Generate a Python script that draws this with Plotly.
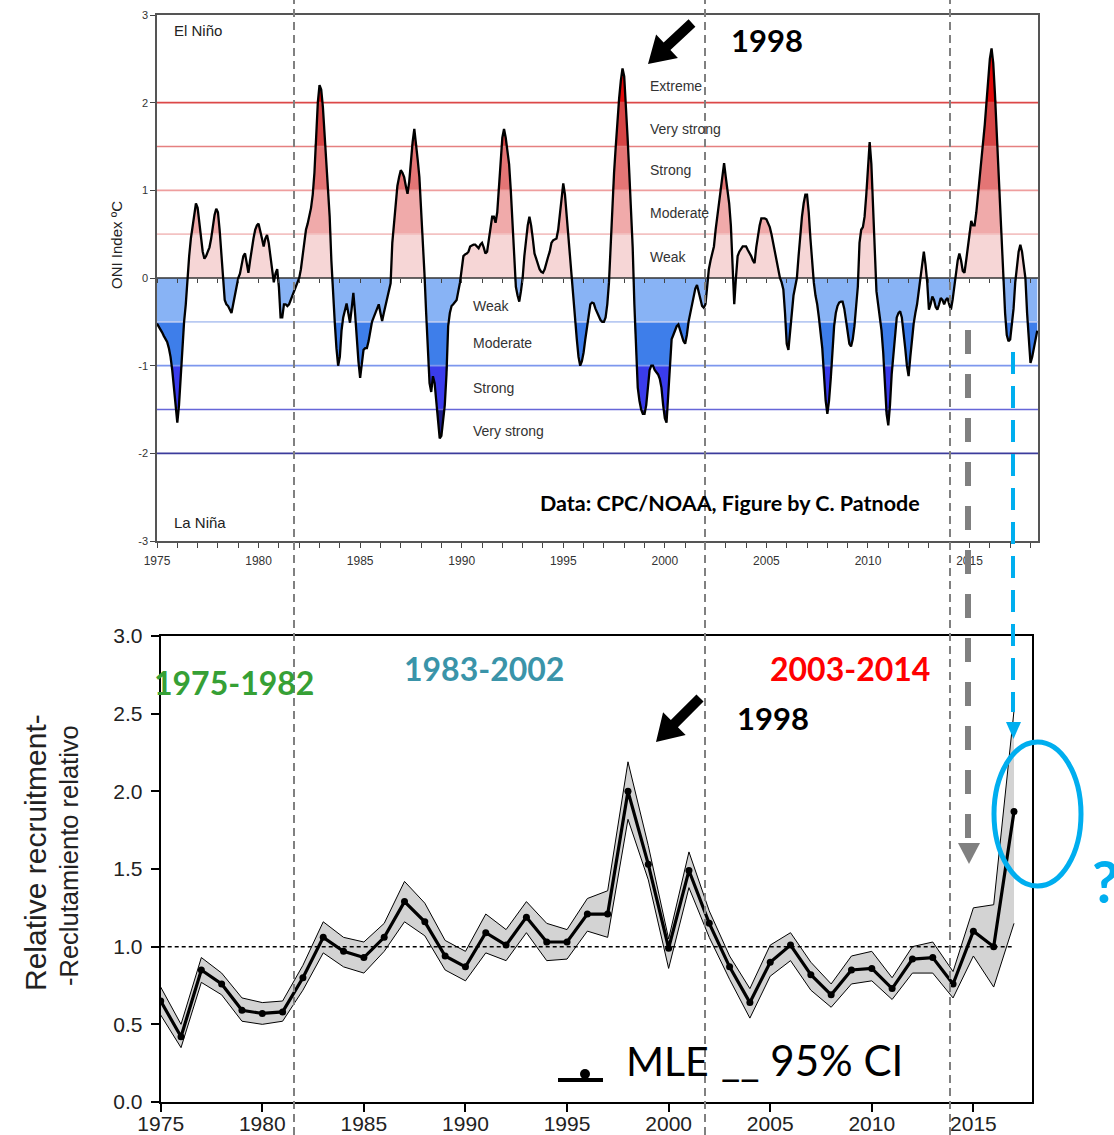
import numpy as np
import plotly.graph_objects as go

# ------------------------------------------------------------------ data
ONI_START = 1975  # monthly values, first value = Jan 1975
ONI_1975_1984 = [
    -0.52, -0.55, -0.58, -0.62, -0.66, -0.70, -0.73, -0.80, -0.90, -1.05, -1.25, -1.45,
    -1.65, -1.45, -1.10, -0.80, -0.50, -0.30, 0.00, 0.25, 0.45, 0.60, 0.75, 0.85,
    0.80, 0.65, 0.45, 0.30, 0.22, 0.25, 0.30, 0.35, 0.45, 0.60, 0.72, 0.79,
    0.75, 0.55, 0.30, 0.00, -0.25, -0.30, -0.32, -0.36, -0.40, -0.30, -0.20, -0.10,
    0.00, 0.05, 0.15, 0.25, 0.28, 0.15, 0.06, 0.20, 0.35, 0.45, 0.55, 0.60,
    0.62, 0.55, 0.45, 0.36, 0.45, 0.49, 0.40, 0.25, 0.10, -0.05, 0.05, 0.10,
    -0.10, -0.45, -0.45, -0.30, -0.30, -0.32, -0.30, -0.25, -0.20, -0.15, -0.10, -0.05,
    0.00, 0.10, 0.25, 0.40, 0.55, 0.62, 0.70, 0.80, 0.95, 1.20, 1.60, 2.00,
    2.20, 2.15, 1.95, 1.65, 1.35, 1.00, 0.70, 0.20, -0.20, -0.50, -0.80, -1.00,
    -0.90, -0.60, -0.45, -0.35, -0.29, -0.40, -0.51, -0.35, -0.17, -0.40, -0.70, -0.95,
]
ONI_1985_1994 = [
    -1.14, -0.95, -0.82, -0.80, -0.80, -0.72, -0.60, -0.50, -0.45, -0.40, -0.33, -0.30,
    -0.40, -0.49, -0.40, -0.32, -0.25, -0.15, -0.06, 0.40, 0.60, 0.85, 1.05, 1.15,
    1.23, 1.20, 1.15, 1.05, 0.96, 1.10, 1.35, 1.55, 1.70, 1.55, 1.35, 1.15,
    0.80, 0.40, 0.05, -0.40, -0.80, -1.20, -1.30, -1.12, -1.20, -1.40, -1.60, -1.83,
    -1.80, -1.65, -1.45, -1.10, -0.55, -0.40, -0.32, -0.30, -0.27, -0.25, -0.15, -0.05,
    0.10, 0.25, 0.27, 0.28, 0.30, 0.36, 0.37, 0.38, 0.38, 0.36, 0.34, 0.38,
    0.40, 0.35, 0.28, 0.30, 0.45, 0.55, 0.70, 0.70, 0.63, 0.75, 1.05, 1.40,
    1.60, 1.70, 1.60, 1.45, 1.30, 1.00, 0.60, 0.15, -0.10, -0.20, -0.27, -0.15,
    0.00, 0.25, 0.45, 0.60, 0.70, 0.60, 0.45, 0.28, 0.22, 0.15, 0.10, 0.07,
    0.06, 0.10, 0.18, 0.24, 0.30, 0.40, 0.43, 0.44, 0.45, 0.55, 0.72, 0.90,
]
ONI_1995_2004 = [
    1.08, 0.95, 0.70, 0.45, 0.20, 0.05, -0.20, -0.45, -0.70, -0.90, -1.00, -0.95,
    -0.85, -0.70, -0.55, -0.40, -0.30, -0.28, -0.29, -0.35, -0.40, -0.45, -0.48, -0.50,
    -0.50, -0.45, -0.30, -0.05, 0.40, 0.80, 1.20, 1.50, 1.80, 2.05, 2.25, 2.39,
    2.30, 2.00, 1.60, 1.20, 0.80, 0.35, -0.30, -0.90, -1.25, -1.40, -1.50, -1.55,
    -1.55, -1.45, -1.20, -1.05, -1.00, -1.00, -1.05, -1.08, -1.10, -1.15, -1.25, -1.45,
    -1.60, -1.65, -1.30, -1.00, -0.70, -0.65, -0.60, -0.55, -0.53, -0.60, -0.65, -0.72,
    -0.75, -0.65, -0.50, -0.40, -0.30, -0.20, -0.12, -0.08, -0.15, -0.25, -0.32, -0.34,
    -0.30, -0.10, 0.10, 0.20, 0.30, 0.36, 0.55, 0.70, 0.90, 1.05, 1.20, 1.31,
    1.15, 1.00, 0.85, 0.60, 0.10, -0.30, 0.00, 0.25, 0.30, 0.33, 0.36, 0.36,
    0.36, 0.32, 0.29, 0.25, 0.20, 0.17, 0.35, 0.50, 0.60, 0.68, 0.68, 0.68,
]
ONI_2005_2018 = [
    0.67, 0.62, 0.58, 0.50, 0.40, 0.30, 0.17, 0.08, 0.00, -0.05, -0.13, -0.40,
    -0.75, -0.82, -0.60, -0.40, -0.20, -0.10, 0.00, 0.25, 0.50, 0.70, 0.85, 0.95,
    0.95, 0.75, 0.45, 0.15, -0.05, -0.20, -0.30, -0.45, -0.60, -0.80, -1.10, -1.40,
    -1.55, -1.40, -1.15, -0.85, -0.55, -0.40, -0.32, -0.28, -0.27, -0.27, -0.35, -0.48,
    -0.65, -0.75, -0.78, -0.70, -0.55, -0.35, -0.10, 0.40, 0.55, 0.58, 0.70, 0.95,
    1.30, 1.55, 1.30, 0.75, 0.30, -0.15, -0.30, -0.45, -0.60, -0.85, -1.20, -1.55,
    -1.68, -1.45, -1.10, -0.85, -0.60, -0.45, -0.40, -0.38, -0.45, -0.60, -0.80, -1.00,
    -1.12, -0.90, -0.70, -0.52, -0.40, -0.30, -0.15, 0.00, 0.20, 0.30, 0.15, -0.05,
    -0.36, -0.30, -0.21, -0.25, -0.33, -0.36, -0.30, -0.23, -0.25, -0.30, -0.25, -0.23,
    -0.30, -0.36, -0.25, -0.10, 0.00, 0.20, 0.28, 0.20, 0.08, 0.06, 0.20, 0.35,
    0.55, 0.65, 0.60, 0.60, 0.75, 0.95, 1.10, 1.30, 1.50, 1.75, 2.00, 2.25,
    2.50, 2.62, 2.45, 2.10, 1.70, 1.30, 0.82, 0.40, -0.05, -0.40, -0.65, -0.72,
    -0.70, -0.55, -0.35, -0.05, 0.15, 0.30, 0.38, 0.30, 0.15, 0.00, -0.40, -0.75,
    -0.97, -0.90, -0.80, -0.70, -0.60,
]

POS_BANDS = [(0.0, 0.5), (0.5, 1.0), (1.0, 1.5), (1.5, 2.0), (2.0, 3.0)]
POS_COLORS = ["#F6D6D6", "#F0AAAA", "#E47575", "#D64545", "#E00A0A"]
NEG_BANDS = [(0.0, -0.5), (-0.5, -1.0), (-1.0, -1.5), (-1.5, -2.0), (-2.0, -3.0)]
NEG_COLORS = ["#88B3F5", "#3E7EEA", "#3A3CEC", "#1E1E8C", "#12125A"]
THRESH_LEVELS = [2.0, 1.5, 1.0, 0.5, -0.5, -1.0, -1.5, -2.0]
THRESH_COLORS = ["#DC4848", "#E58080", "#EE9E9E", "#F3C2C2",
                 "#B9CAF2", "#7D97EE", "#6666D8", "#3C3C9C"]
POS_LABELS = ["Extreme", "Very strong", "Strong", "Moderate", "Weak"]
POS_LABEL_Y = [2.19, 1.70, 1.23, 0.74, 0.24]
NEG_LABELS = ["Weak", "Moderate", "Strong", "Very strong"]
NEG_LABEL_Y = [-0.32, -0.74, -1.26, -1.75]
POS_LABEL_X = 1999.17
NEG_LABEL_X = 1990.46
TOP_YTICKS = [-3, -2, -1, 0, 1, 2, 3]

REC_YEARS = list(range(1975, 2018))
REC_MLE = [0.65, 0.42, 0.85, 0.76, 0.59, 0.57, 0.58, 0.80, 1.06, 0.97, 0.93, 1.06, 1.29,
           1.16, 0.94, 0.87, 1.09, 1.01, 1.19, 1.03, 1.03, 1.21, 1.21, 2.00, 1.53, 0.99,
           1.49, 1.15, 0.87, 0.64, 0.90, 1.01, 0.82, 0.69, 0.85, 0.86, 0.73, 0.92, 0.93,
           0.76, 1.10, 1.00, 1.87]
REC_UPPER = [0.74, 0.50, 0.93, 0.83, 0.67, 0.64, 0.65, 0.88, 1.16, 1.06, 1.03, 1.15, 1.42,
             1.28, 1.04, 0.97, 1.21, 1.11, 1.29, 1.15, 1.11, 1.31, 1.36, 2.19, 1.65, 1.05,
             1.61, 1.23, 0.94, 0.73, 1.01, 1.09, 0.90, 0.76, 0.94, 0.97, 0.80, 1.00, 1.03,
             0.84, 1.25, 1.27, 2.52]
REC_LOWER = [0.56, 0.35, 0.77, 0.69, 0.52, 0.50, 0.52, 0.72, 0.96, 0.87, 0.83, 0.97, 1.16,
             1.07, 0.85, 0.78, 0.96, 0.91, 1.09, 0.91, 0.92, 1.10, 1.06, 1.82, 1.43, 0.86,
             1.38, 1.06, 0.79, 0.54, 0.81, 0.91, 0.72, 0.61, 0.76, 0.78, 0.66, 0.83, 0.83,
             0.67, 0.94, 0.74, 1.15]
REC_REF = 1.0
BOT_YTICKS = [0, 0.5, 1, 1.5, 2, 2.5, 3]

PERIOD_LABELS = ["1975-1982", "1983-2002", "2003-2014"]
PERIOD_COLORS = ["#36A035", "#3A94A9", "#FF0000"]

# ------------------------------------------------------------------ helpers
W, H = 1114, 1135
def px(x):
    return x / W
def py(y):
    return 1 - y / H

ARIAL = "Liberation Sans, Arial, sans-serif"
CALIBRI = "Lato, Open Sans, sans-serif"
BLUE = "#00AEEF"

oni = np.array(ONI_1975_1984 + ONI_1985_1994 + ONI_1995_2004 + ONI_2005_2018)
t = ONI_START + np.arange(len(oni)) / 12.0
TOP_XMAX = 2018.37
BOT_XMAX = 2017.9

fig = go.Figure()

# ---- top panel: band fills
for (lo, hi), col in zip(POS_BANDS, POS_COLORS):
    fig.add_trace(go.Scatter(x=t, y=np.full(len(t), lo), mode="lines", line=dict(width=0),
                             hoverinfo="skip", showlegend=False, xaxis="x", yaxis="y"))
    fig.add_trace(go.Scatter(x=t, y=np.clip(oni, lo, hi), mode="lines", line=dict(width=0),
                             fill="tonexty", fillcolor=col, hoverinfo="skip",
                             showlegend=False, xaxis="x", yaxis="y"))
for (a, b), col in zip(NEG_BANDS, NEG_COLORS):
    fig.add_trace(go.Scatter(x=t, y=np.full(len(t), a), mode="lines", line=dict(width=0),
                             hoverinfo="skip", showlegend=False, xaxis="x", yaxis="y"))
    fig.add_trace(go.Scatter(x=t, y=np.clip(oni, b, a), mode="lines", line=dict(width=0),
                             fill="tonexty", fillcolor=col, hoverinfo="skip",
                             showlegend=False, xaxis="x", yaxis="y"))

# threshold lines
for lev, col in zip(THRESH_LEVELS, THRESH_COLORS):
    fig.add_trace(go.Scatter(x=[ONI_START, TOP_XMAX], y=[lev, lev], mode="lines",
                             line=dict(color=col, width=1.6), hoverinfo="skip",
                             showlegend=False, xaxis="x", yaxis="y"))
fig.add_trace(go.Scatter(x=[ONI_START, TOP_XMAX], y=[0, 0], mode="lines",
                         line=dict(color="#333333", width=1.5), hoverinfo="skip",
                         showlegend=False, xaxis="x", yaxis="y"))
# ONI curve
fig.add_trace(go.Scatter(x=t, y=oni, mode="lines", line=dict(color="black", width=2.3),
                         showlegend=False, xaxis="x", yaxis="y"))
# dummy trace for the zero-line tick axis
fig.add_trace(go.Scatter(x=[ONI_START, TOP_XMAX], y=[0, 0], mode="lines",
                         line=dict(width=0), hoverinfo="skip", showlegend=False,
                         xaxis="x3", yaxis="y"))

# ---- bottom panel
fig.add_trace(go.Scatter(x=REC_YEARS, y=REC_UPPER, mode="lines",
                         line=dict(color="black", width=1), showlegend=False,
                         xaxis="x2", yaxis="y2"))
fig.add_trace(go.Scatter(x=REC_YEARS, y=REC_LOWER, mode="lines",
                         line=dict(color="black", width=1), fill="tonexty",
                         fillcolor="#D3D3D3", showlegend=False, xaxis="x2", yaxis="y2"))
fig.add_trace(go.Scatter(x=[REC_YEARS[0], REC_YEARS[-1]], y=[REC_REF, REC_REF], mode="lines",
                         line=dict(color="black", width=1.5, dash="4px,3px"),
                         showlegend=False, xaxis="x2", yaxis="y2"))
fig.add_trace(go.Scatter(x=REC_YEARS, y=REC_MLE, mode="lines+markers",
                         line=dict(color="black", width=3.2),
                         marker=dict(color="black", size=7), showlegend=False,
                         xaxis="x2", yaxis="y2"))

# ------------------------------------------------------------------ shapes
shapes = []
for xv in [294, 705, 950]:
    shapes.append(dict(type="line", xref="paper", yref="paper", x0=px(xv), x1=px(xv),
                       y0=0, y1=1, line=dict(color="#808080", width=2, dash="8px,5px"),
                       layer="above"))

def arrow_path(tail, tip, w, L, hw):
    x0, y0 = tail
    x1, y1 = tip
    d = np.hypot(x1 - x0, y1 - y0)
    ux, uy = (x1 - x0) / d, (y1 - y0) / d
    nx, ny = -uy, ux
    bx, by = x1 - ux * L, y1 - uy * L
    pts = [(x0 + nx * w / 2, y0 + ny * w / 2), (bx + nx * w / 2, by + ny * w / 2),
           (bx + nx * hw / 2, by + ny * hw / 2), (x1, y1),
           (bx - nx * hw / 2, by - ny * hw / 2), (bx - nx * w / 2, by - ny * w / 2),
           (x0 - nx * w / 2, y0 - ny * w / 2)]
    s = "M " + " L ".join(f"{px(a):.5f},{py(b):.5f}" for a, b in pts) + " Z"
    return s

for tail, tip in [((692, 23), (648, 64)), ((700, 698), (656, 742))]:
    shapes.append(dict(type="path", xref="paper", yref="paper",
                       path=arrow_path(tail, tip, 10, 26, 32),
                       fillcolor="black", line=dict(width=0), layer="above"))

# gray dashed arrow
shapes.append(dict(type="line", xref="paper", yref="paper", x0=px(968), x1=px(968),
                   y0=py(330), y1=py(842), line=dict(color="#808080", width=6,
                                                    dash="24px,20px"), layer="above"))
shapes.append(dict(type="path", xref="paper", yref="paper",
                   path=f"M {px(958)},{py(843)} L {px(980)},{py(843)} L {px(969)},{py(864)} Z",
                   fillcolor="#808080", line=dict(width=0), layer="above"))
# blue dashed arrow
shapes.append(dict(type="line", xref="paper", yref="paper", x0=px(1013), x1=px(1013),
                   y0=py(352), y1=py(712), line=dict(color=BLUE, width=4,
                                                    dash="22px,12px"), layer="above"))
shapes.append(dict(type="path", xref="paper", yref="paper",
                   path=f"M {px(1006)},{py(722)} L {px(1021)},{py(722)} L {px(1013.5)},{py(739)} Z",
                   fillcolor=BLUE, line=dict(width=0), layer="above"))
# blue ellipse
shapes.append(dict(type="circle", xref="paper", yref="paper", x0=px(994), x1=px(1081),
                   y0=py(886), y1=py(742), line=dict(color=BLUE, width=5), layer="above"))
# MLE legend symbol
shapes.append(dict(type="line", xref="paper", yref="paper", x0=px(558), x1=px(603),
                   y0=py(1080), y1=py(1080), line=dict(color="black", width=4), layer="above"))
shapes.append(dict(type="circle", xref="paper", yref="paper", x0=px(580), x1=px(590),
                   y0=py(1079), y1=py(1069), fillcolor="black", line=dict(width=0),
                   layer="above"))

# ------------------------------------------------------------------ annotations
ann = []
def txt(text, x, y, size, family=ARIAL, color="#222222", xanchor="center", bold=False,
        angle=0, xref="paper", yref="paper"):
    if bold:
        text = f"<b>{text}</b>"
    d = dict(text=text, x=x, y=y, xref=xref, yref=yref, showarrow=False,
             font=dict(size=size, family=family, color=color), xanchor=xanchor,
             yanchor="middle", textangle=angle)
    ann.append(d)

txt("El Niño", px(172), py(31), 15, xanchor="left")
txt("La Niña", px(172), py(522), 15, xanchor="left")
for lab, yv in zip(POS_LABELS, POS_LABEL_Y):
    txt(lab, POS_LABEL_X, yv, 14, color="#333333", xanchor="left", xref="x", yref="y")
for lab, yv in zip(NEG_LABELS, NEG_LABEL_Y):
    txt(lab, NEG_LABEL_X, yv, 14, color="#333333", xanchor="left", xref="x", yref="y")
txt("Data: CPC/NOAA, Figure by C. Patnode", px(730), py(503), 21.5, family=CALIBRI,
    color="black", bold=True)
txt("1998", px(767), py(40), 31, family=CALIBRI, color="black", bold=True)
txt("ONI Index ºC", px(116), py(245), 15, angle=-90)

for lab, col, (xx, yy) in zip(PERIOD_LABELS, PERIOD_COLORS, [(234, 683), (484, 668), (850, 668)]):
    txt(lab, px(xx), py(yy), 32, family=CALIBRI, color=col, bold=True)
txt("1998", px(773), py(718), 31, family=CALIBRI, color="black", bold=True)
txt("Relative recruitment-", px(35), py(853), 30, angle=-90)
txt("-Reclutamiento relativo", px(69), py(856), 25.5, angle=-90)
txt("MLE", px(667), py(1060), 41, family=CALIBRI, color="black")
txt("__ 95% CI", px(719), py(1060), 42, family=CALIBRI, color="black", xanchor="left")
txt("?", px(1090), py(880), 58, family=CALIBRI, color=BLUE, xanchor="left", bold=True)

# ------------------------------------------------------------------ layout
top_years = list(range(1975, 2019))
fig.update_layout(
    template="none",
    width=W, height=H, autosize=False,
    margin=dict(l=0, r=0, t=0, b=0, pad=0),
    paper_bgcolor="white", plot_bgcolor="white",
    showlegend=False,
    shapes=shapes, annotations=ann,
    xaxis=dict(domain=[px(157), px(1038)], range=[ONI_START, TOP_XMAX], anchor="y",
               automargin=False,
               tickmode="array", tickvals=top_years,
               ticktext=[str(y) if y % 5 == 0 else "" for y in top_years],
               ticks="outside", ticklen=5, tickcolor="#444444", tickwidth=1,
               tickfont=dict(size=12, family=ARIAL, color="#333333"),
               ticklabelstandoff=3,
               showline=True, linecolor="#555555", linewidth=1.5, mirror=True,
               showgrid=False, zeroline=False),
    yaxis=dict(domain=[py(541), py(15)], range=[-3, 3], anchor="x",
               automargin=False,
               tickmode="array", tickvals=TOP_YTICKS, ticktext=[str(v) for v in TOP_YTICKS],
               ticks="outside", ticklen=5, tickcolor="#444444",
               tickfont=dict(size=11, family=ARIAL, color="#333333"),
               showline=True, linecolor="#555555", linewidth=1.5, mirror=True,
               showgrid=False, zeroline=False),
    xaxis3=dict(overlaying="x", anchor="free", position=py(278), range=[ONI_START, TOP_XMAX],
                automargin=False,
                tickmode="array", tickvals=top_years, ticks="outside", ticklen=4,
                tickcolor="#444444", showticklabels=False, showline=False,
                showgrid=False, zeroline=False, side="bottom"),
    xaxis2=dict(domain=[px(160.7), px(1032.3)], range=[ONI_START, BOT_XMAX], anchor="y2",
                automargin=False,
                tickmode="array", tickvals=list(range(1975, 2016, 5)),
                ticks="outside", ticklen=8, tickwidth=1.5, tickcolor="black",
                tickfont=dict(size=21, family=ARIAL, color="#222222"),
                ticklabelstandoff=-6,
                showline=True, linecolor="black", linewidth=2, mirror=True,
                showgrid=False, zeroline=False),
    yaxis2=dict(domain=[py(1102), py(636)], range=[0, 3], anchor="x2",
                automargin=False,
                tickmode="array", tickvals=BOT_YTICKS,
                ticktext=[f"{v:.1f}" for v in BOT_YTICKS],
                ticks="outside", ticklen=8, tickwidth=1.5, tickcolor="black",
                tickfont=dict(size=21, family=ARIAL, color="#222222"),
                ticklabelstandoff=4,
                showline=True, linecolor="black", linewidth=2, mirror=True,
                showgrid=False, zeroline=False),
)

fig.write_html("out.html")
